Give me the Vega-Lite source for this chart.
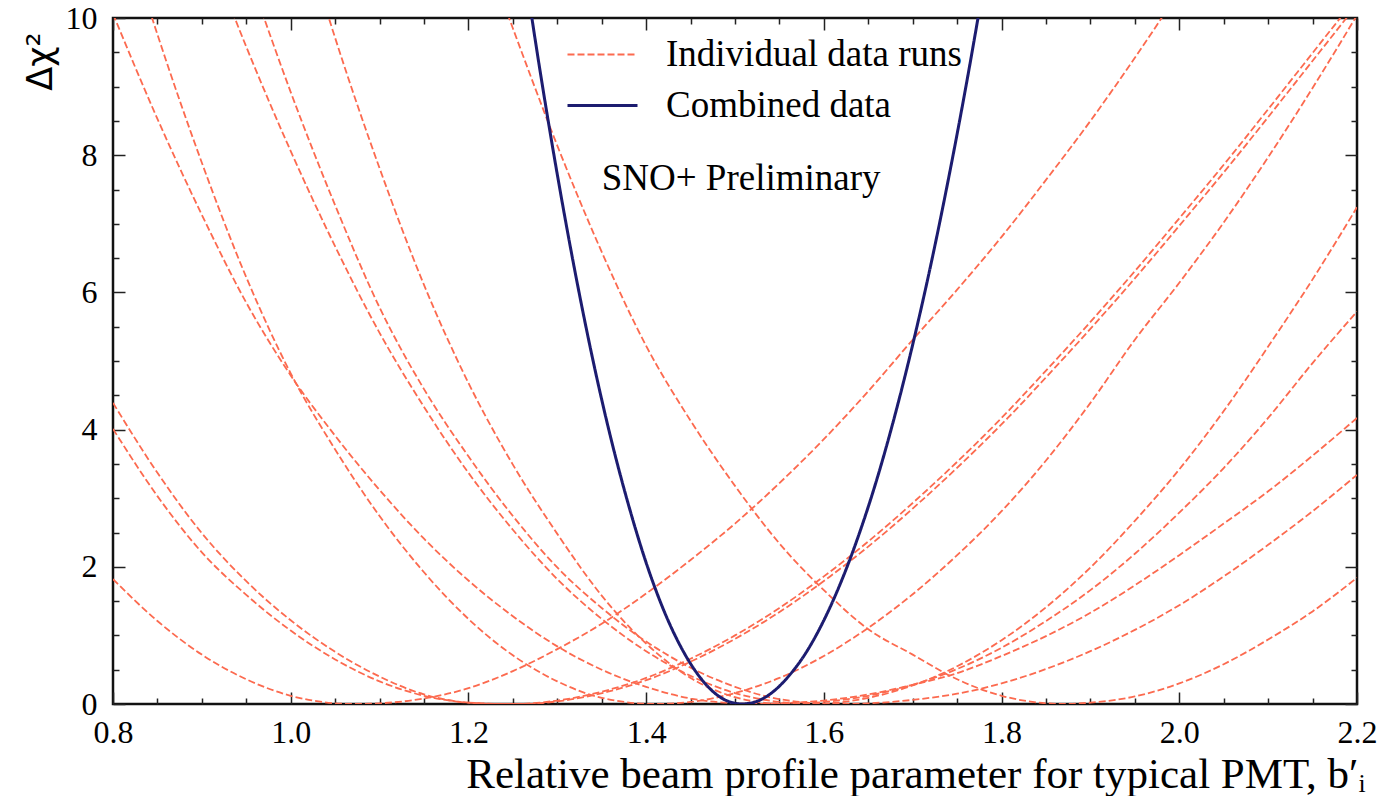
{
  "$schema": "https://vega.github.io/schema/vega-lite/v6.json",
  "width": 1244,
  "height": 686,
  "autosize": {"type": "none"},
  "padding": {"left": 113, "top": 18, "right": 27, "bottom": 92},
  "background": "white",
  "config": {"view": {"stroke": "#111111", "strokeWidth": 2.5}, "font": "Liberation Serif"},
  "datasets": {
    "curves": [
      {"c":"A","k":"Individual data runs","x":0.80,"y":1.82},{"c":"A","k":"Individual data runs","x":0.85,"y":1.21},{"c":"A","k":"Individual data runs","x":0.90,"y":0.72},{"c":"A","k":"Individual data runs","x":0.95,"y":0.36},{"c":"A","k":"Individual data runs","x":1.00,"y":0.12},{"c":"A","k":"Individual data runs","x":1.05,"y":0.01},{"c":"A","k":"Individual data runs","x":1.07,"y":0},{"c":"A","k":"Individual data runs","x":1.10,"y":0.01},{"c":"A","k":"Individual data runs","x":1.15,"y":0.08},{"c":"A","k":"Individual data runs","x":1.20,"y":0.23},{"c":"A","k":"Individual data runs","x":1.25,"y":0.48},{"c":"A","k":"Individual data runs","x":1.30,"y":0.80},{"c":"A","k":"Individual data runs","x":1.35,"y":1.17},{"c":"A","k":"Individual data runs","x":1.40,"y":1.61},{"c":"A","k":"Individual data runs","x":1.45,"y":2.10},{"c":"A","k":"Individual data runs","x":1.50,"y":2.63},{"c":"A","k":"Individual data runs","x":1.55,"y":3.22},{"c":"A","k":"Individual data runs","x":1.60,"y":3.86},{"c":"A","k":"Individual data runs","x":1.65,"y":4.56},{"c":"A","k":"Individual data runs","x":1.70,"y":5.31},{"c":"A","k":"Individual data runs","x":1.75,"y":6.04},{"c":"A","k":"Individual data runs","x":1.80,"y":6.81},{"c":"A","k":"Individual data runs","x":1.85,"y":7.64},{"c":"A","k":"Individual data runs","x":1.90,"y":8.50},{"c":"A","k":"Individual data runs","x":1.95,"y":9.42},{"c":"A","k":"Individual data runs","x":2.00,"y":10.39},

      {"c":"B7","k":"Individual data runs","x":0.80,"y":4.39},{"c":"B7","k":"Individual data runs","x":0.85,"y":3.37},{"c":"B7","k":"Individual data runs","x":0.90,"y":2.49},{"c":"B7","k":"Individual data runs","x":0.95,"y":1.79},{"c":"B7","k":"Individual data runs","x":1.00,"y":1.22},{"c":"B7","k":"Individual data runs","x":1.05,"y":0.76},{"c":"B7","k":"Individual data runs","x":1.10,"y":0.40},{"c":"B7","k":"Individual data runs","x":1.15,"y":0.14},{"c":"B7","k":"Individual data runs","x":1.20,"y":0.02},{"c":"B7","k":"Individual data runs","x":1.244,"y":0},{"c":"B7","k":"Individual data runs","x":1.257,"y":0.00},{"c":"B7","k":"Individual data runs","x":1.307,"y":0.05},{"c":"B7","k":"Individual data runs","x":1.357,"y":0.18},{"c":"B7","k":"Individual data runs","x":1.407,"y":0.38},{"c":"B7","k":"Individual data runs","x":1.457,"y":0.66},{"c":"B7","k":"Individual data runs","x":1.507,"y":1.00},{"c":"B7","k":"Individual data runs","x":1.557,"y":1.40},{"c":"B7","k":"Individual data runs","x":1.607,"y":1.86},{"c":"B7","k":"Individual data runs","x":1.657,"y":2.37},{"c":"B7","k":"Individual data runs","x":1.707,"y":2.93},{"c":"B7","k":"Individual data runs","x":1.757,"y":3.53},{"c":"B7","k":"Individual data runs","x":1.807,"y":4.17},{"c":"B7","k":"Individual data runs","x":1.857,"y":4.86},{"c":"B7","k":"Individual data runs","x":1.907,"y":5.57},{"c":"B7","k":"Individual data runs","x":1.957,"y":6.31},{"c":"B7","k":"Individual data runs","x":2.007,"y":7.08},{"c":"B7","k":"Individual data runs","x":2.057,"y":7.86},{"c":"B7","k":"Individual data runs","x":2.107,"y":8.67},{"c":"B7","k":"Individual data runs","x":2.157,"y":9.49},{"c":"B7","k":"Individual data runs","x":2.207,"y":10.31},

      {"c":"B8","k":"Individual data runs","x":0.80,"y":4.01},{"c":"B8","k":"Individual data runs","x":0.85,"y":3.03},{"c":"B8","k":"Individual data runs","x":0.90,"y":2.21},{"c":"B8","k":"Individual data runs","x":0.95,"y":1.59},{"c":"B8","k":"Individual data runs","x":1.00,"y":1.07},{"c":"B8","k":"Individual data runs","x":1.05,"y":0.65},{"c":"B8","k":"Individual data runs","x":1.10,"y":0.33},{"c":"B8","k":"Individual data runs","x":1.15,"y":0.12},{"c":"B8","k":"Individual data runs","x":1.20,"y":0.02},{"c":"B8","k":"Individual data runs","x":1.237,"y":0},{"c":"B8","k":"Individual data runs","x":1.25,"y":0.00},{"c":"B8","k":"Individual data runs","x":1.30,"y":0.05},{"c":"B8","k":"Individual data runs","x":1.35,"y":0.18},{"c":"B8","k":"Individual data runs","x":1.40,"y":0.38},{"c":"B8","k":"Individual data runs","x":1.45,"y":0.66},{"c":"B8","k":"Individual data runs","x":1.50,"y":1.00},{"c":"B8","k":"Individual data runs","x":1.55,"y":1.40},{"c":"B8","k":"Individual data runs","x":1.60,"y":1.86},{"c":"B8","k":"Individual data runs","x":1.65,"y":2.37},{"c":"B8","k":"Individual data runs","x":1.70,"y":2.93},{"c":"B8","k":"Individual data runs","x":1.75,"y":3.53},{"c":"B8","k":"Individual data runs","x":1.80,"y":4.17},{"c":"B8","k":"Individual data runs","x":1.85,"y":4.86},{"c":"B8","k":"Individual data runs","x":1.90,"y":5.57},{"c":"B8","k":"Individual data runs","x":1.95,"y":6.31},{"c":"B8","k":"Individual data runs","x":2.00,"y":7.08},{"c":"B8","k":"Individual data runs","x":2.05,"y":7.86},{"c":"B8","k":"Individual data runs","x":2.10,"y":8.67},{"c":"B8","k":"Individual data runs","x":2.15,"y":9.49},{"c":"B8","k":"Individual data runs","x":2.20,"y":10.31},

      {"c":"C1","k":"Individual data runs","x":0.80,"y":10.06},{"c":"C1","k":"Individual data runs","x":0.85,"y":8.53},{"c":"C1","k":"Individual data runs","x":0.90,"y":7.13},{"c":"C1","k":"Individual data runs","x":0.95,"y":5.85},{"c":"C1","k":"Individual data runs","x":1.00,"y":4.79},{"c":"C1","k":"Individual data runs","x":1.05,"y":3.91},{"c":"C1","k":"Individual data runs","x":1.10,"y":3.12},{"c":"C1","k":"Individual data runs","x":1.15,"y":2.41},{"c":"C1","k":"Individual data runs","x":1.20,"y":1.80},{"c":"C1","k":"Individual data runs","x":1.25,"y":1.28},{"c":"C1","k":"Individual data runs","x":1.30,"y":0.84},{"c":"C1","k":"Individual data runs","x":1.35,"y":0.50},{"c":"C1","k":"Individual data runs","x":1.40,"y":0.25},{"c":"C1","k":"Individual data runs","x":1.45,"y":0.08},{"c":"C1","k":"Individual data runs","x":1.50,"y":0.01},{"c":"C1","k":"Individual data runs","x":1.525,"y":0},{"c":"C1","k":"Individual data runs","x":1.55,"y":0.01},{"c":"C1","k":"Individual data runs","x":1.60,"y":0.05},{"c":"C1","k":"Individual data runs","x":1.65,"y":0.14},{"c":"C1","k":"Individual data runs","x":1.70,"y":0.28},{"c":"C1","k":"Individual data runs","x":1.75,"y":0.45},{"c":"C1","k":"Individual data runs","x":1.80,"y":0.70},{"c":"C1","k":"Individual data runs","x":1.85,"y":0.99},{"c":"C1","k":"Individual data runs","x":1.90,"y":1.33},{"c":"C1","k":"Individual data runs","x":1.95,"y":1.73},{"c":"C1","k":"Individual data runs","x":2.00,"y":2.17},{"c":"C1","k":"Individual data runs","x":2.05,"y":2.63},{"c":"C1","k":"Individual data runs","x":2.10,"y":3.10},{"c":"C1","k":"Individual data runs","x":2.15,"y":3.62},{"c":"C1","k":"Individual data runs","x":2.20,"y":4.17},

      {"c":"C2","k":"Individual data runs","x":0.84,"y":10.16},{"c":"C2","k":"Individual data runs","x":0.85,"y":9.76},{"c":"C2","k":"Individual data runs","x":0.90,"y":7.89},{"c":"C2","k":"Individual data runs","x":0.95,"y":6.22},{"c":"C2","k":"Individual data runs","x":1.00,"y":4.82},{"c":"C2","k":"Individual data runs","x":1.05,"y":3.71},{"c":"C2","k":"Individual data runs","x":1.10,"y":2.74},{"c":"C2","k":"Individual data runs","x":1.15,"y":1.92},{"c":"C2","k":"Individual data runs","x":1.20,"y":1.24},{"c":"C2","k":"Individual data runs","x":1.25,"y":0.71},{"c":"C2","k":"Individual data runs","x":1.30,"y":0.33},{"c":"C2","k":"Individual data runs","x":1.35,"y":0.09},{"c":"C2","k":"Individual data runs","x":1.41,"y":0},{"c":"C2","k":"Individual data runs","x":1.45,"y":0.03},{"c":"C2","k":"Individual data runs","x":1.50,"y":0.16},{"c":"C2","k":"Individual data runs","x":1.55,"y":0.38},{"c":"C2","k":"Individual data runs","x":1.60,"y":0.70},{"c":"C2","k":"Individual data runs","x":1.65,"y":1.11},{"c":"C2","k":"Individual data runs","x":1.70,"y":1.60},{"c":"C2","k":"Individual data runs","x":1.75,"y":2.17},{"c":"C2","k":"Individual data runs","x":1.80,"y":2.81},{"c":"C2","k":"Individual data runs","x":1.85,"y":3.55},{"c":"C2","k":"Individual data runs","x":1.90,"y":4.39},{"c":"C2","k":"Individual data runs","x":1.95,"y":5.31},{"c":"C2","k":"Individual data runs","x":2.00,"y":6.14},{"c":"C2","k":"Individual data runs","x":2.05,"y":7.02},{"c":"C2","k":"Individual data runs","x":2.10,"y":7.97},{"c":"C2","k":"Individual data runs","x":2.15,"y":8.98},{"c":"C2","k":"Individual data runs","x":2.20,"y":10.04},

      {"c":"C3","k":"Individual data runs","x":0.93,"y":10.23},{"c":"C3","k":"Individual data runs","x":0.95,"y":9.58},{"c":"C3","k":"Individual data runs","x":1.00,"y":8.06},{"c":"C3","k":"Individual data runs","x":1.05,"y":6.67},{"c":"C3","k":"Individual data runs","x":1.10,"y":5.41},{"c":"C3","k":"Individual data runs","x":1.15,"y":4.33},{"c":"C3","k":"Individual data runs","x":1.20,"y":3.37},{"c":"C3","k":"Individual data runs","x":1.25,"y":2.54},{"c":"C3","k":"Individual data runs","x":1.30,"y":1.82},{"c":"C3","k":"Individual data runs","x":1.35,"y":1.24},{"c":"C3","k":"Individual data runs","x":1.40,"y":0.77},{"c":"C3","k":"Individual data runs","x":1.45,"y":0.41},{"c":"C3","k":"Individual data runs","x":1.50,"y":0.16},{"c":"C3","k":"Individual data runs","x":1.55,"y":0.03},{"c":"C3","k":"Individual data runs","x":1.585,"y":0},{"c":"C3","k":"Individual data runs","x":1.65,"y":0.09},{"c":"C3","k":"Individual data runs","x":1.70,"y":0.27},{"c":"C3","k":"Individual data runs","x":1.75,"y":0.55},{"c":"C3","k":"Individual data runs","x":1.80,"y":0.93},{"c":"C3","k":"Individual data runs","x":1.85,"y":1.41},{"c":"C3","k":"Individual data runs","x":1.90,"y":1.99},{"c":"C3","k":"Individual data runs","x":1.95,"y":2.67},{"c":"C3","k":"Individual data runs","x":2.00,"y":3.42},{"c":"C3","k":"Individual data runs","x":2.05,"y":4.27},{"c":"C3","k":"Individual data runs","x":2.10,"y":5.21},{"c":"C3","k":"Individual data runs","x":2.15,"y":6.19},{"c":"C3","k":"Individual data runs","x":2.20,"y":7.24},

      {"c":"C4","k":"Individual data runs","x":0.96,"y":10.37},{"c":"C4","k":"Individual data runs","x":1.00,"y":8.92},{"c":"C4","k":"Individual data runs","x":1.05,"y":7.27},{"c":"C4","k":"Individual data runs","x":1.10,"y":5.78},{"c":"C4","k":"Individual data runs","x":1.15,"y":4.59},{"c":"C4","k":"Individual data runs","x":1.20,"y":3.61},{"c":"C4","k":"Individual data runs","x":1.25,"y":2.74},{"c":"C4","k":"Individual data runs","x":1.30,"y":1.99},{"c":"C4","k":"Individual data runs","x":1.35,"y":1.40},{"c":"C4","k":"Individual data runs","x":1.40,"y":0.91},{"c":"C4","k":"Individual data runs","x":1.45,"y":0.53},{"c":"C4","k":"Individual data runs","x":1.50,"y":0.25},{"c":"C4","k":"Individual data runs","x":1.55,"y":0.07},{"c":"C4","k":"Individual data runs","x":1.615,"y":0},{"c":"C4","k":"Individual data runs","x":1.65,"y":0.01},{"c":"C4","k":"Individual data runs","x":1.70,"y":0.06},{"c":"C4","k":"Individual data runs","x":1.75,"y":0.15},{"c":"C4","k":"Individual data runs","x":1.80,"y":0.30},{"c":"C4","k":"Individual data runs","x":1.85,"y":0.51},{"c":"C4","k":"Individual data runs","x":1.90,"y":0.77},{"c":"C4","k":"Individual data runs","x":1.95,"y":1.08},{"c":"C4","k":"Individual data runs","x":2.00,"y":1.44},{"c":"C4","k":"Individual data runs","x":2.05,"y":1.86},{"c":"C4","k":"Individual data runs","x":2.10,"y":2.32},{"c":"C4","k":"Individual data runs","x":2.15,"y":2.81},{"c":"C4","k":"Individual data runs","x":2.20,"y":3.34},

      {"c":"C5","k":"Individual data runs","x":1.04,"y":10.12},{"c":"C5","k":"Individual data runs","x":1.05,"y":9.71},{"c":"C5","k":"Individual data runs","x":1.10,"y":7.81},{"c":"C5","k":"Individual data runs","x":1.15,"y":6.11},{"c":"C5","k":"Individual data runs","x":1.20,"y":4.68},{"c":"C5","k":"Individual data runs","x":1.25,"y":3.49},{"c":"C5","k":"Individual data runs","x":1.30,"y":2.48},{"c":"C5","k":"Individual data runs","x":1.35,"y":1.58},{"c":"C5","k":"Individual data runs","x":1.40,"y":0.88},{"c":"C5","k":"Individual data runs","x":1.45,"y":0.38},{"c":"C5","k":"Individual data runs","x":1.50,"y":0.10},{"c":"C5","k":"Individual data runs","x":1.555,"y":0},{"c":"C5","k":"Individual data runs","x":1.60,"y":0.03},{"c":"C5","k":"Individual data runs","x":1.65,"y":0.12},{"c":"C5","k":"Individual data runs","x":1.70,"y":0.28},{"c":"C5","k":"Individual data runs","x":1.75,"y":0.51},{"c":"C5","k":"Individual data runs","x":1.80,"y":0.82},{"c":"C5","k":"Individual data runs","x":1.85,"y":1.21},{"c":"C5","k":"Individual data runs","x":1.90,"y":1.66},{"c":"C5","k":"Individual data runs","x":1.95,"y":2.19},{"c":"C5","k":"Individual data runs","x":2.00,"y":2.79},{"c":"C5","k":"Individual data runs","x":2.05,"y":3.44},{"c":"C5","k":"Individual data runs","x":2.10,"y":4.17},{"c":"C5","k":"Individual data runs","x":2.15,"y":4.97},{"c":"C5","k":"Individual data runs","x":2.20,"y":5.72},

      {"c":"C6","k":"Individual data runs","x":1.24,"y":10.2},{"c":"C6","k":"Individual data runs","x":1.25,"y":9.85},{"c":"C6","k":"Individual data runs","x":1.30,"y":8.14},{"c":"C6","k":"Individual data runs","x":1.35,"y":6.59},{"c":"C6","k":"Individual data runs","x":1.40,"y":5.22},{"c":"C6","k":"Individual data runs","x":1.45,"y":4.13},{"c":"C6","k":"Individual data runs","x":1.50,"y":3.18},{"c":"C6","k":"Individual data runs","x":1.55,"y":2.34},{"c":"C6","k":"Individual data runs","x":1.60,"y":1.66},{"c":"C6","k":"Individual data runs","x":1.65,"y":1.09},{"c":"C6","k":"Individual data runs","x":1.70,"y":0.72},{"c":"C6","k":"Individual data runs","x":1.75,"y":0.36},{"c":"C6","k":"Individual data runs","x":1.80,"y":0.12},{"c":"C6","k":"Individual data runs","x":1.85,"y":0.01},{"c":"C6","k":"Individual data runs","x":1.87,"y":0},{"c":"C6","k":"Individual data runs","x":1.90,"y":0.02},{"c":"C6","k":"Individual data runs","x":1.95,"y":0.11},{"c":"C6","k":"Individual data runs","x":2.00,"y":0.30},{"c":"C6","k":"Individual data runs","x":2.05,"y":0.58},{"c":"C6","k":"Individual data runs","x":2.10,"y":0.94},{"c":"C6","k":"Individual data runs","x":2.15,"y":1.35},{"c":"C6","k":"Individual data runs","x":2.20,"y":1.84},

      {"c":"Z","k":"Combined data","x":1.26,"y":10.99},{"c":"Z","k":"Combined data","x":1.28,"y":9.28},{"c":"Z","k":"Combined data","x":1.30,"y":7.72},{"c":"Z","k":"Combined data","x":1.32,"y":6.30},{"c":"Z","k":"Combined data","x":1.34,"y":5.02},{"c":"Z","k":"Combined data","x":1.36,"y":3.89},{"c":"Z","k":"Combined data","x":1.38,"y":2.91},{"c":"Z","k":"Combined data","x":1.40,"y":2.06},{"c":"Z","k":"Combined data","x":1.42,"y":1.36},{"c":"Z","k":"Combined data","x":1.44,"y":0.81},{"c":"Z","k":"Combined data","x":1.46,"y":0.40},{"c":"Z","k":"Combined data","x":1.48,"y":0.13},{"c":"Z","k":"Combined data","x":1.50,"y":0.01},{"c":"Z","k":"Combined data","x":1.507,"y":0},{"c":"Z","k":"Combined data","x":1.52,"y":0.02},{"c":"Z","k":"Combined data","x":1.54,"y":0.15},{"c":"Z","k":"Combined data","x":1.56,"y":0.40},{"c":"Z","k":"Combined data","x":1.58,"y":0.75},{"c":"Z","k":"Combined data","x":1.60,"y":1.22},{"c":"Z","k":"Combined data","x":1.62,"y":1.80},{"c":"Z","k":"Combined data","x":1.64,"y":2.49},{"c":"Z","k":"Combined data","x":1.66,"y":3.29},{"c":"Z","k":"Combined data","x":1.68,"y":4.21},{"c":"Z","k":"Combined data","x":1.70,"y":5.24},{"c":"Z","k":"Combined data","x":1.72,"y":6.38},{"c":"Z","k":"Combined data","x":1.74,"y":7.64},{"c":"Z","k":"Combined data","x":1.76,"y":9.01},{"c":"Z","k":"Combined data","x":1.78,"y":10.49}
    ],
    "note": [{"x": 1.35, "y": 7.49, "t": "SNO+ Preliminary"}]
  },
  "layer": [
    {
      "data": {"name": "curves"},
      "mark": {"type": "line", "clip": true, "interpolate": "monotone"},
      "encoding": {
        "x": {"field": "x", "type": "quantitative",
          "scale": {"domain": [0.8, 2.2], "nice": false, "zero": false},
          "axis": {"orient": "bottom", "values": [0.8, 1.0, 1.2, 1.4, 1.6, 1.8, 2.0, 2.2], "format": ".1f",
            "tickSize": -12, "tickColor": "#222222", "tickWidth": 1.5, "domain": false, "grid": false,
            "labelFont": "Liberation Serif", "labelFontSize": 32, "labelColor": "black", "labelPadding": 25,
            "labelFlush": false, "labelOverlap": false,
            "title": "Relative beam profile parameter for typical PMT, b′ᵢ",
            "titleFont": "Liberation Serif", "titleFontSize": 43, "titleFontWeight": "normal", "titleColor": "black",
            "titleAlign": "right", "titleBaseline": "alphabetic", "titleX": 1252, "titleY": 83}},
        "y": {"field": "y", "type": "quantitative",
          "scale": {"domain": [0, 10], "nice": false, "zero": false},
          "axis": {"orient": "left", "values": [0, 2, 4, 6, 8, 10], "format": "d",
            "tickSize": -12, "tickColor": "#222222", "tickWidth": 1.5, "domain": false, "grid": false,
            "labelFont": "Liberation Serif", "labelFontSize": 32, "labelColor": "black", "labelPadding": 28,
            "labelFlush": false, "labelOverlap": false,
            "title": "Δχ²", "titleFont": "DejaVu Sans", "titleFontSize": 35, "titleFontWeight": "normal", "titleColor": "black",
            "titleAngle": -90, "titleAlign": "right", "titleBaseline": "alphabetic", "titleX": -62, "titleY": 14}},
        "detail": {"field": "c"},
        "color": {"field": "k", "type": "nominal",
          "scale": {"domain": ["Individual data runs", "Combined data"], "range": ["#fc6a4f", "#1c1c70"]},
          "legend": {"orient": "none", "legendX": 471, "legendY": 18, "title": null,
            "symbolType": "M-5,0H5", "symbolSize": 196, "symbolStrokeWidth": 2,
            "labelFont": "Liberation Serif", "labelFontSize": 37, "labelColor": "black",
            "labelOffset": 45, "rowPadding": 13, "labelLimit": 0}},
        "strokeDash": {"field": "k", "type": "nominal",
          "scale": {"domain": ["Individual data runs", "Combined data"], "range": [[7, 3], [1, 0]]},
          "legend": {"orient": "none", "legendX": 471, "legendY": 18, "title": null,
            "symbolType": "M-5,0H5", "symbolSize": 196, "symbolStrokeWidth": 2,
            "labelFont": "Liberation Serif", "labelFontSize": 37, "labelColor": "black",
            "labelOffset": 45, "rowPadding": 13, "labelLimit": 0}},
        "strokeWidth": {"field": "k", "type": "nominal",
          "scale": {"domain": ["Individual data runs", "Combined data"], "range": [1.8, 3]},
          "legend": null}
      }
    },
    {
      "data": {"name": "note"},
      "mark": {"type": "text", "align": "left", "baseline": "alphabetic", "font": "Liberation Serif", "fontSize": 37, "color": "black"},
      "encoding": {
        "x": {"field": "x", "type": "quantitative",
          "scale": {"domain": [0.8, 2.2], "nice": false, "zero": false},
          "axis": {"orient": "top", "values": [0.8, 1.0, 1.2, 1.4, 1.6, 1.8, 2.0, 2.2], "tickSize": -12, "tickColor": "#222222", "tickWidth": 1.5,
            "labels": false, "domain": false, "grid": false, "title": null}},
        "y": {"field": "y", "type": "quantitative",
          "scale": {"domain": [0, 10], "nice": false, "zero": false},
          "axis": {"orient": "right", "values": [0, 2, 4, 6, 8, 10], "tickSize": -12, "tickColor": "#222222", "tickWidth": 1.5,
            "labels": false, "domain": false, "grid": false, "title": null}},
        "text": {"field": "t"}
      }
    },
    {
      "data": {"name": "note"},
      "mark": {"type": "point", "opacity": 0},
      "encoding": {
        "x": {"field": "x", "type": "quantitative",
          "scale": {"domain": [0.8, 2.2], "nice": false, "zero": false},
          "axis": {"orient": "bottom", "values": [0.85, 0.9, 0.95, 1.05, 1.1, 1.15, 1.25, 1.3, 1.35, 1.45, 1.5, 1.55, 1.65, 1.7, 1.75, 1.85, 1.9, 1.95, 2.05, 2.1, 2.15],
            "tickSize": -6, "tickColor": "#222222", "tickWidth": 1.5, "labels": false, "domain": false, "grid": false, "title": null}},
        "y": {"field": "y", "type": "quantitative",
          "scale": {"domain": [0, 10], "nice": false, "zero": false},
          "axis": {"orient": "left", "values": [0.5, 1, 1.5, 2.5, 3, 3.5, 4.5, 5, 5.5, 6.5, 7, 7.5, 8.5, 9, 9.5],
            "tickSize": -6, "tickColor": "#222222", "tickWidth": 1.5, "labels": false, "domain": false, "grid": false, "title": null}}
      }
    },
    {
      "data": {"name": "note"},
      "mark": {"type": "point", "opacity": 0},
      "encoding": {
        "x": {"field": "x", "type": "quantitative",
          "scale": {"domain": [0.8, 2.2], "nice": false, "zero": false},
          "axis": {"orient": "top", "values": [0.85, 0.9, 0.95, 1.05, 1.1, 1.15, 1.25, 1.3, 1.35, 1.45, 1.5, 1.55, 1.65, 1.7, 1.75, 1.85, 1.9, 1.95, 2.05, 2.1, 2.15],
            "tickSize": -6, "tickColor": "#222222", "tickWidth": 1.5, "labels": false, "domain": false, "grid": false, "title": null}},
        "y": {"field": "y", "type": "quantitative",
          "scale": {"domain": [0, 10], "nice": false, "zero": false},
          "axis": {"orient": "right", "values": [0.5, 1, 1.5, 2.5, 3, 3.5, 4.5, 5, 5.5, 6.5, 7, 7.5, 8.5, 9, 9.5],
            "tickSize": -6, "tickColor": "#222222", "tickWidth": 1.5, "labels": false, "domain": false, "grid": false, "title": null}}
      }
    }
  ],
  "resolve": {"axis": {"x": "independent", "y": "independent"}}
}
